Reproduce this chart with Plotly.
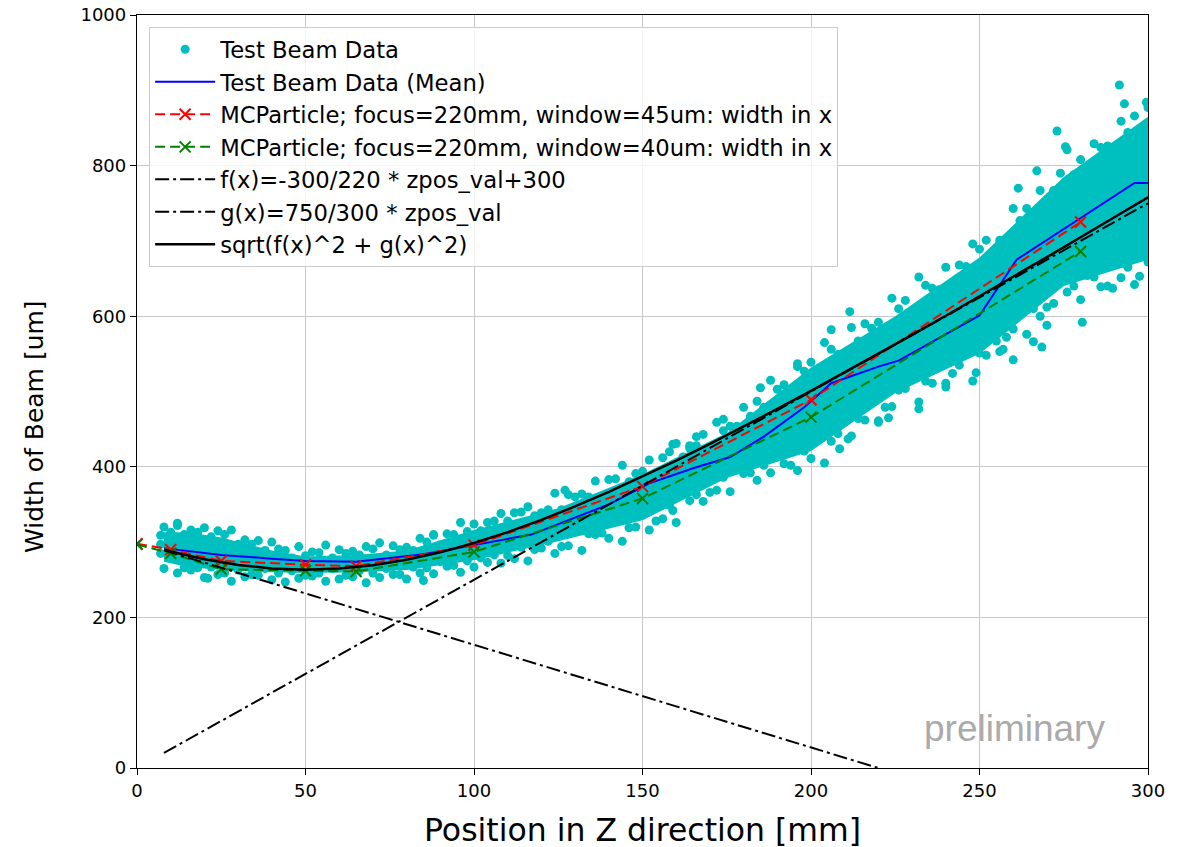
import plotly.graph_objects as go

# ---------------- data ----------------
# dense core of the test-beam scatter band (z in mm, width in um)
band_z = [8, 15, 25, 40, 50, 65, 80, 100, 125, 150, 175, 200, 225, 250, 275, 300]
core_lo = [274, 267, 263, 260, 259, 260, 263, 276, 301, 329, 385, 421, 498, 550, 640, 675]
core_hi = [313, 313, 306, 289, 281, 283, 289, 316, 345, 390, 445, 532, 600, 678, 785, 865]

# individual test-beam points along the band edges
edge_z_a = [8, 12, 16, 20, 24, 28, 32, 36, 40, 44, 48, 52, 56, 60, 64, 68, 72, 76, 80, 84,
            88, 92, 96, 100, 104, 108, 112, 116, 120, 124, 128, 132, 136, 140, 144, 148, 152,
            156, 160, 164, 168, 172, 176, 180, 184, 188, 192, 196, 200, 204, 208, 212, 216,
            220, 224, 228, 232, 236, 240, 244, 248, 252, 256, 260, 264, 268, 272, 276, 280,
            284, 288, 292, 296, 300]
upper_a = [320, 325, 316, 319, 315, 316, 303, 302, 300, 289, 294, 287, 296, 290, 288, 294, 299,
           295, 293, 305, 309, 311, 326, 324, 326, 338, 339, 347, 339, 365, 363, 364, 381, 383,
           402, 391, 409, 412, 431, 425, 443, 459, 454, 479, 487, 515, 509, 533, 539, 565, 549,
           585, 590, 592, 624, 621, 652, 637, 665, 668, 696, 701, 701, 743, 743, 767, 767, 821,
           808, 829, 826, 859, 866, 877]
lower_a = [265, 259, 263, 253, 257, 248, 254, 256, 250, 247, 252, 255, 248, 251, 254, 246, 253,
           257, 251, 259, 258, 268, 260, 267, 273, 272, 278, 275, 292, 285, 295, 289, 310, 305,
           301, 320, 316, 331, 326, 355, 354, 369, 367, 391, 382, 392, 404, 395, 411, 405, 444,
           441, 462, 459, 480, 504, 486, 511, 511, 535, 514, 548, 553, 583, 576, 600, 617, 632,
           622, 652, 640, 651, 642, 672]

edge_z_b = [10, 14, 18, 22, 26, 30, 34, 38, 42, 46, 50, 54, 58, 62, 66, 70, 74, 78, 82, 86,
            90, 94, 98, 102, 106, 110, 114, 118, 122, 126, 130, 134, 138, 142, 146, 150, 154,
            158, 162, 166, 170, 174, 178, 182, 186, 190, 194, 198, 202, 206, 210, 214, 218,
            222, 226, 230, 234, 238, 242, 246, 250, 254, 258, 262, 266, 270, 274, 278, 282,
            286, 290, 294, 298]
upper_b = [313, 310, 313, 307, 310, 297, 297, 289, 291, 279, 282, 286, 279, 285, 283, 291, 283,
           290, 289, 300, 296, 310, 314, 315, 328, 328, 340, 335, 343, 343, 360, 360, 358, 384,
           380, 394, 392, 420, 413, 428, 426, 448, 454, 467, 479, 503, 501, 527, 530, 556, 544,
           567, 584, 571, 610, 604, 641, 635, 639, 666, 689, 685, 691, 727, 736, 742, 790, 788,
           791, 824, 821, 844, 838]
lower_b = [278, 266, 266, 267, 259, 263, 257, 265, 259, 262, 256, 259, 265, 256, 262, 259, 265,
           257, 267, 266, 274, 269, 275, 279, 283, 282, 293, 290, 301, 294, 314, 311, 312, 332,
           319, 336, 328, 349, 364, 363, 366, 386, 399, 392, 402, 414, 402, 421, 443, 434, 461,
           464, 497, 479, 502, 520, 514, 533, 524, 558, 551, 572, 572, 610, 610, 612, 646, 640,
           654, 639, 675, 665, 680]

outlier_z = [7, 7, 7, 12, 21, 85, 88, 127, 159, 159, 166, 164, 174, 185, 196, 206, 211.5, 207.5,
             208.5, 211, 220, 223, 232, 240, 249, 255, 257, 260, 266, 268.5, 270, 261.5, 267,
             273, 275.5, 280.5, 289.5, 297.5, 291.5, 293, 299.5]
outlier_w = [285, 297, 309, 322, 252, 249, 310, 369, 430, 342, 440, 428, 463, 505, 537, 582, 606,
             452, 424, 437, 461, 465, 477, 506, 525, 567, 556, 542, 566, 559, 588, 770, 793, 846,
             825, 592, 637, 653, 907, 882, 884]

# test beam mean
mean_z = [8, 15, 25, 40, 50, 65, 85, 100, 117, 140, 152, 165, 176, 186, 198, 206, 220, 226, 250, 261, 296, 300]
mean_w = [292, 288, 283, 278, 275, 274, 284, 296, 310, 350, 378, 398, 413, 440, 479, 511, 533, 541, 601, 675, 777, 777]

# MC particle simulations
mc_z = [0, 10, 25, 50, 65, 100, 150, 200, 280]
mc_45 = [298, 290, 275, 270, 268, 296, 374, 489, 725]
mc_40 = [297, 285, 264, 262, 261, 287, 358, 466, 686]

# reference lines
f_z = [8, 300]
f_w = [289.1, -109.1]
g_z = [8, 300]
g_w = [20, 750]
q_z = [8, 10, 20, 30, 40, 50, 60, 70, 80, 90, 100, 110, 120, 130, 140, 150, 160, 170, 180,
       190, 200, 210, 220, 230, 240, 250, 260, 270, 280, 290, 300]
q_w = [289.8, 287.5, 277.3, 269.7, 265.0, 263.4, 264.8, 269.2, 276.5, 286.4, 298.8, 313.3,
       329.5, 347.4, 366.6, 387.0, 408.3, 430.4, 453.3, 476.8, 500.7, 525.2, 550.0, 575.2,
       600.6, 626.3, 652.3, 678.4, 704.8, 731.3, 757.9]

x_ticks = [0, 50, 100, 150, 200, 250, 300]
y_ticks = [0, 200, 400, 600, 800, 1000]

# ---------------- figure ----------------
CYAN = '#00bfbf'
FONT = 'DejaVu Sans'

scatter_z = edge_z_a + edge_z_a + edge_z_b + edge_z_b + outlier_z
scatter_w = upper_a + lower_a + upper_b + lower_b + outlier_w

fig = go.Figure()
fig.add_trace(go.Scatter(x=band_z + band_z[::-1], y=core_lo + core_hi[::-1], mode='lines',
                         fill='toself', fillcolor=CYAN, line=dict(width=0, color=CYAN),
                         showlegend=False, hoverinfo='skip'))
fig.add_trace(go.Scatter(x=scatter_z, y=scatter_w, mode='markers', name='Test Beam Data',
                         legendgroup='a', marker=dict(size=9, color=CYAN)))
fig.add_trace(go.Scatter(x=mean_z, y=mean_w, mode='lines', name='Test Beam Data (Mean)',
                         legendgroup='b', line=dict(color='#0000ff', width=2)))
fig.add_trace(go.Scatter(x=mc_z, y=mc_45, mode='lines+markers',
                         name='MCParticle; focus=220mm, window=45um: width in x', legendgroup='c',
                         line=dict(color='#ff0000', width=2, dash='10px,5px'),
                         marker=dict(symbol='x-thin', size=11, line=dict(color='#ff0000', width=2))))
fig.add_trace(go.Scatter(x=mc_z, y=mc_40, mode='lines+markers',
                         name='MCParticle; focus=220mm, window=40um: width in x', legendgroup='d',
                         line=dict(color='#008000', width=2, dash='10px,5px'),
                         marker=dict(symbol='x-thin', size=11, line=dict(color='#008000', width=2))))
fig.add_trace(go.Scatter(x=f_z, y=f_w, mode='lines', name='f(x)=-300/220 * zpos_val+300',
                         legendgroup='e', line=dict(color='black', width=2, dash='14px,4px,3px,4px')))
fig.add_trace(go.Scatter(x=g_z, y=g_w, mode='lines', name='g(x)=750/300 * zpos_val',
                         legendgroup='f', line=dict(color='black', width=2, dash='14px,4px,3px,4px')))
fig.add_trace(go.Scatter(x=q_z, y=q_w, mode='lines', name='sqrt(f(x)^2 + g(x)^2)',
                         legendgroup='g', line=dict(color='black', width=2.5)))

axis_common = dict(showgrid=True, gridcolor='#c8c8c8', gridwidth=1, zeroline=False,
                   showline=True, mirror=True, linecolor='black', linewidth=1.3,
                   ticks='outside', ticklen=6, tickwidth=1.2, tickcolor='black',
                   automargin=False,
                   tickfont=dict(family=FONT, size=18, color='black'))

fig.update_layout(
    width=1197, height=847,
    margin=dict(l=137, r=49, t=15, b=79),
    paper_bgcolor='white', plot_bgcolor='white',
    font=dict(family=FONT, color='black'),
    xaxis=dict(range=[0, 300], tickvals=x_ticks, **axis_common),
    yaxis=dict(range=[0, 1000], tickvals=y_ticks, **axis_common),
    legend=dict(x=0.012, y=0.984, xanchor='left', yanchor='top',
                bgcolor='rgba(255,255,255,0.8)', bordercolor='#cccccc', borderwidth=1,
                font=dict(family=FONT, size=22.7, color='black'), tracegroupgap=8,
                itemwidth=60, traceorder='normal'),
    annotations=[
        dict(x=260.5, y=53, xref='x', yref='y', text='preliminary', showarrow=False,
             font=dict(family='Liberation Sans', size=37, color='#aaaaaa')),
        dict(x=0.5, y=-0.0823, xref='paper', yref='paper', text='Position in Z direction [mm]',
             showarrow=False, xanchor='center', yanchor='middle',
             font=dict(family=FONT, size=31.5, color='black')),
        dict(x=-0.1009, y=0.453, xref='paper', yref='paper', text='Width of Beam [um]',
             showarrow=False, xanchor='center', yanchor='middle', textangle=-90,
             font=dict(family=FONT, size=25, color='black')),
    ],
    showlegend=True,
)

fig.write_html('out.html')
